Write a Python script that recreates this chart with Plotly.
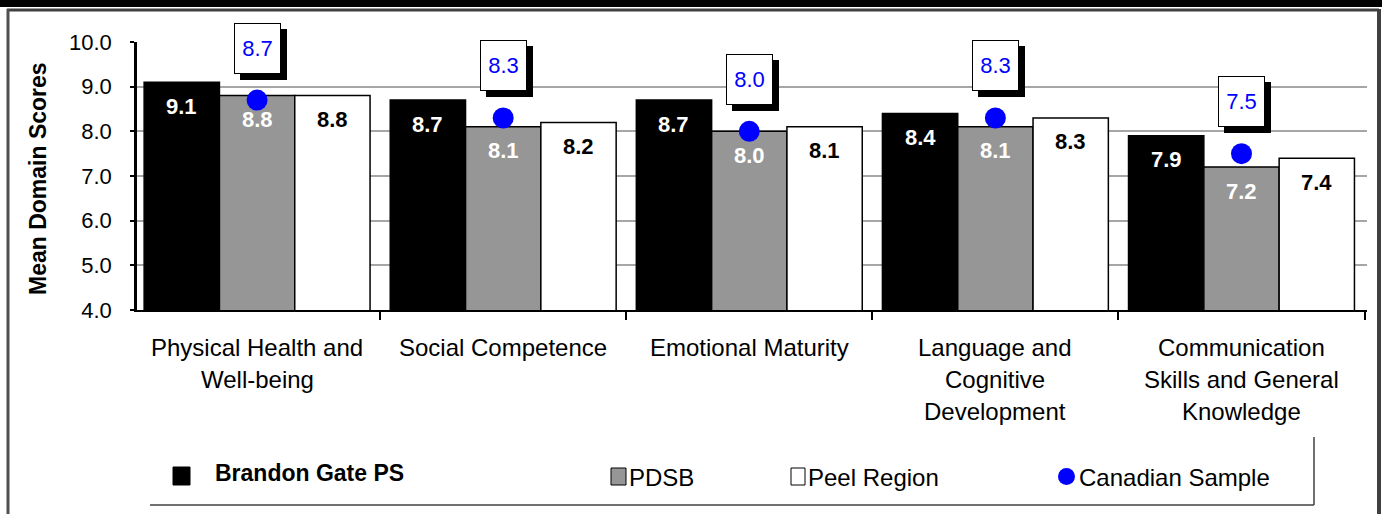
import plotly.graph_objects as go

categories = ["Physical Health and\nWell-being", "Social Competence", "Emotional Maturity",
              "Language and\nCognitive\nDevelopment", "Communication\nSkills and General\nKnowledge"]
school = [9.1, 8.7, 8.7, 8.4, 7.9]
pdsb = [8.8, 8.1, 8.0, 8.1, 7.2]
peel = [8.8, 8.2, 8.1, 8.3, 7.4]
canada = [8.7, 8.3, 8.0, 8.3, 7.5]
series_names = ["Brandon Gate PS", "PDSB", "Peel Region", "Canadian Sample"]
y_ticks = [4, 5, 6, 7, 8, 9, 10]

W, H = 1382, 514
L, R, T, B = 137, 1367, 42, 310
FONT = "Liberation Sans, Arial, sans-serif"


def px(x):
    return (x - L) / (R - L)


def py(y):
    return (B - y) / (B - T)


idx = list(range(len(categories)))
bw = 0.306
offsets = [-1.5 * bw, -0.5 * bw, 0.5 * bw]
fills = ["#000000", "#969696", "#ffffff"]
label_colors = ["#ffffff", "#ffffff", "#000000"]

fig = go.Figure()
for s, (vals, fill, off) in enumerate(zip([school, pdsb, peel], fills, offsets)):
    fig.add_trace(go.Bar(x=idx, y=vals, name=series_names[s], width=bw, offset=off,
                         marker=dict(color=fill, line=dict(color="#000000", width=1.5)),
                         showlegend=False, hoverinfo="skip"))

fig.add_trace(go.Scatter(x=idx, y=canada, mode="markers", name=series_names[3],
                         marker=dict(color="#0000ff", size=21, line=dict(width=0)),
                         showlegend=False, hoverinfo="skip"))

ann = []
# bar labels
for s, (vals, off) in enumerate(zip([school, pdsb, peel], offsets)):
    for i, v in enumerate(vals):
        ann.append(dict(x=i + off + bw / 2, y=v, xref="x", yref="y", text=f"{v:.1f}",
                        showarrow=False, yshift=-24, yanchor="middle",
                        font=dict(family=FONT, size=22, color=label_colors[s], weight="bold")))
# canadian sample callouts with shadow
for i, v in enumerate(canada):
    ann.append(dict(x=i, y=v, xref="x", yref="y", text=" ", showarrow=False,
                    xshift=6, yshift=52 - 6, width=45, height=49, bgcolor="#000000",
                    borderpad=0, borderwidth=1, bordercolor="#000000",
                    font=dict(family=FONT, size=22, color="#000000")))
    ann.append(dict(x=i, y=v, xref="x", yref="y", text=f"{v:.1f}", showarrow=False,
                    yshift=52, width=45, height=49, bgcolor="#ffffff",
                    borderpad=0, borderwidth=1, bordercolor="#000000",
                    font=dict(family=FONT, size=22, color="#0000ff")))
# category labels
for i, lab in enumerate(categories):
    for j, line in enumerate(lab.split("\n")):
        ann.append(dict(x=i, y=py(347 + 32 * j), xref="x", yref="paper", text=line,
                        showarrow=False, yanchor="middle", xanchor="center",
                        font=dict(family=FONT, size=24, color="#000000")))
# y axis title
ann.append(dict(x=px(38), y=py(179), xref="paper", yref="paper", text="Mean Domain Scores",
                textangle=-90, showarrow=False, xanchor="center", yanchor="middle",
                font=dict(family=FONT, size=23, color="#000000", weight="bold")))

shapes = []
# legend
leg_y0, leg_y1 = 467, 485
shapes.append(dict(type="rect", xref="paper", yref="paper", x0=px(173), x1=px(190),
                   y0=py(leg_y1), y1=py(leg_y0), fillcolor="#000000", line=dict(color="#000000", width=1)))
shapes.append(dict(type="rect", xref="paper", yref="paper", x0=px(611), x1=px(626),
                   y0=py(leg_y1), y1=py(leg_y0 + 1), fillcolor="#969696", line=dict(color="#000000", width=1)))
shapes.append(dict(type="rect", xref="paper", yref="paper", x0=px(791), x1=px(805),
                   y0=py(leg_y1), y1=py(leg_y0 + 1), fillcolor="#ffffff", line=dict(color="#000000", width=1)))
shapes.append(dict(type="circle", xref="paper", yref="paper", x0=px(1058), x1=px(1075),
                   y0=py(leg_y1), y1=py(leg_y0 + 1), fillcolor="#0000ff", line=dict(width=0)))
ann.append(dict(x=px(213), y=py(473), xref="paper", yref="paper", text=series_names[0],
                showarrow=False, xanchor="left", yanchor="middle",
                font=dict(family=FONT, size=23, color="#000000", weight="bold")))
for name, xl in zip(series_names[1:], [627, 806, 1077]):
    ann.append(dict(x=px(xl), y=py(477), xref="paper", yref="paper", text=name,
                    showarrow=False, xanchor="left", yanchor="middle",
                    font=dict(family=FONT, size=24, color="#000000")))
# legend frame lines
shapes.append(dict(type="line", xref="paper", yref="paper", x0=px(150), x1=px(1314),
                   y0=py(505), y1=py(505), line=dict(color="#404040", width=1.5)))
shapes.append(dict(type="line", xref="paper", yref="paper", x0=px(1314), x1=px(1314),
                   y0=py(437), y1=py(505), line=dict(color="#404040", width=1.5)))
# outer frame
shapes.append(dict(type="rect", xref="paper", yref="paper", x0=px(0), x1=px(W),
                   y0=py(7), y1=py(-2), fillcolor="#000000", line=dict(width=0), layer="above"))
shapes.append(dict(type="line", xref="paper", yref="paper", x0=px(7), x1=px(1379),
                   y0=py(10), y1=py(10), line=dict(color="#404040", width=3)))
shapes.append(dict(type="line", xref="paper", yref="paper", x0=px(8), x1=px(8),
                   y0=py(9), y1=py(520), line=dict(color="#505050", width=3)))
shapes.append(dict(type="line", xref="paper", yref="paper", x0=px(1379), x1=px(1379),
                   y0=py(9), y1=py(520), line=dict(color="#404040", width=4)))

fig.update_layout(
    width=W, height=H,
    margin=dict(l=L, r=W - R, t=T, b=H - B),
    paper_bgcolor="#ffffff", plot_bgcolor="#ffffff",
    barmode="overlay",
    annotations=ann, shapes=shapes,
    font=dict(family=FONT, color="#000000"),
    xaxis=dict(type="linear", range=[-0.488, 4.51], showticklabels=False,
               tickvals=[k + 0.5 for k in range(-1, len(categories))], ticks="outside",
               ticklen=8, tickwidth=2, tickcolor="#000000",
               showgrid=False, zeroline=False,
               showline=True, linecolor="#000000", linewidth=2),
    yaxis=dict(range=[4, 10], tickvals=y_ticks, tickformat=".1f", ticks="outside",
               ticklen=4, tickwidth=1.5, tickcolor="#000000",
               tickfont=dict(family=FONT, size=22, color="#000000"),
               ticklabelstandoff=14,
               showgrid=True, gridcolor="#a6a6a6", gridwidth=1.5, zeroline=False,
               showline=True, linecolor="#000000", linewidth=2.5),
)

fig.write_html("out.html", config={"displayModeBar": False},
               post_script="document.body.style.margin='0';document.body.style.overflow='hidden';")
